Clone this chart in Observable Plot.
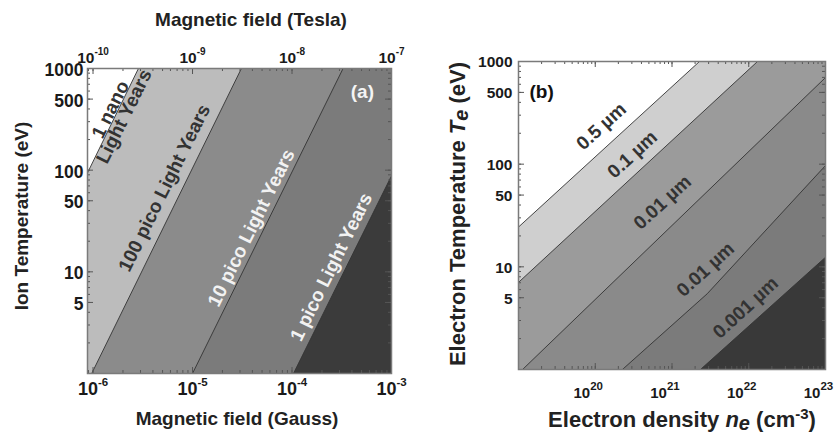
<!DOCTYPE html>
<html><head><meta charset="utf-8">
<script src="https://cdn.jsdelivr.net/npm/d3@7"></script>
<script src="https://cdn.jsdelivr.net/npm/@observablehq/plot@0.6"></script>
<style>
html,body{margin:0;padding:0;background:#fff;}
#wrap{position:relative;width:835px;height:433px;overflow:hidden;}
#wrap svg{position:absolute;top:0;}
</style></head><body><div id="wrap"></div>
<script>
// ---------- Panel (a): ion gyroradius ----------
const aXDomain = [8.8e-7, 1e-3];          // magnetic field (Gauss)
const aYDomain = [1, 1000];               // ion temperature (eV)
const aGaussTicks = [1e-6, 1e-5, 1e-4, 1e-3];
const aGaussTickLabels = ["10^-6", "10^-5", "10^-4", "10^-3"];
const aTeslaTickLabels = ["10^-10", "10^-9", "10^-8", "10^-7"];
const aTempTicks = [5, 10, 50, 100, 500, 1000];
// contour lines as [B (G), T (eV)] where they cross the frame
const aContour1 = [[8.8e-7, 94], [2.86e-6, 1000]];
const aContour2 = [[9.7e-7, 1], [3.1e-5, 1000]];
const aContour3 = [[1.0e-5, 1], [3.26e-4, 1000]];
const aContour4 = [[1.035e-4, 1], [1e-3, 88]];
const aBandGreys = ["#ffffff", "#bcbcbc", "#8b8b8b", "#7b7b7b", "#3b3b3b"];
const aLabels = ["1 nano\nLight Years", "100 pico Light Years", "10 pico Light Years", "1 pico Light Years"];
const aLabelB = [1.8e-6, 5.36e-6, 4.0e-5, 2.55e-4];
const aLabelT = [360, 66, 26.7, 11];
const aLabelColors = ["#333333", "#333333", "#f2f2f2", "#f2f2f2"];

// ---------- Panel (b) ----------
const bXDomain = [1e19, 1e23];            // electron density (cm^-3)
const bYDomain = [1, 1000];               // electron temperature (eV)
const bDensityTicks = [1e20, 1e21, 1e22, 1e23];
const bDensityTickLabels = ["10^20", "10^21", "10^22", "10^23"];
const bTempTicks = [5, 10, 50, 100, 500, 1000];
const bContour1 = [[1e19, 24.4], [2.28e21, 1000]];
const bContour2 = [[1e19, 7.05], [1.3e22, 1000]];
const bContour3 = [[1.13e19, 1], [1e23, 698]];
const bContour4 = [[2.26e20, 1], [2.88e21, 5.47], [1e23, 97]];
const bContour5 = [[2.35e21, 1], [1e23, 12.4]];
const bBandGreys = ["#ffffff", "#cfcfcf", "#9b9b9b", "#8a8a8a", "#7b7b7b", "#393939"];
const bLabels = ["0.5 µm", "0.1 µm", "0.01 µm", "0.01 µm", "0.001 µm"];
const bLabelN = [1.2e20, 3.05e20, 7.5e20, 2.73e21, 9.1e21];
const bLabelT = [233, 124, 42.4, 9.4, 4.0];

// ---------- helpers ----------
function bandPolygon(pts, xd, yd) {
  const poly = pts.slice();
  const s = pts[0], e = pts[pts.length - 1];
  if (e[1] >= yd[1]) poly.push([xd[1], yd[1]]);
  poly.push([xd[1], yd[0]]);
  if (s[0] <= xd[0]) poly.push([xd[0], yd[0]]);
  return poly;
}
function logMinor(lo, hi) {
  const out = [];
  for (let e = Math.floor(Math.log10(lo)) - 1; e <= Math.ceil(Math.log10(hi)); e++)
    for (let m = 1; m < 10; m++) {
      const v = m * Math.pow(10, e);
      if (v >= lo * 1.0001 && v <= hi * 0.9999) out.push(v);
    }
  return out;
}
function tickRules(xd, yd, iw, ih, xMajor, yMajor) {
  const xm = logMinor(xd[0], xd[1]), ym = logMinor(yd[0], yd[1]);
  const st = {stroke: "#555", strokeWidth: 1};
  return [
    Plot.ruleX(xm, {x: d => d, insetTop: ih - 3, ...st}),
    Plot.ruleX(xm, {x: d => d, insetBottom: ih - 3, ...st}),
    Plot.ruleY(ym, {y: d => d, insetRight: iw - 3, ...st}),
    Plot.ruleY(ym, {y: d => d, insetLeft: iw - 3, ...st}),
    Plot.ruleX(xMajor, {x: d => d, insetTop: ih - 6, ...st}),
    Plot.ruleX(xMajor, {x: d => d, insetBottom: ih - 6, ...st}),
    Plot.ruleY(yMajor, {y: d => d, insetRight: iw - 6, ...st}),
    Plot.ruleY(yMajor, {y: d => d, insetLeft: iw - 6, ...st})
  ];
}
// turn "10^k" tick texts into 10 + raised exponent, with explicit sizes
function superscripts(svg, cls, baseSize, supSize, supDy) {
  d3.select(svg).selectAll("g." + cls + " text").each(function () {
    const m = /^10\^(.+)$/.exec(this.textContent);
    if (!m) return;
    const sel = d3.select(this);
    sel.text(null).attr("font-size", baseSize).style("font-size", baseSize + "px");
    sel.append("tspan").attr("font-size", baseSize).style("font-size", baseSize + "px").text("10");
    sel.append("tspan").attr("dy", supDy).attr("font-size", supSize).style("font-size", supSize + "px").text(m[1]);
  });
}
const wrap = document.getElementById("wrap");
const fontFamily = "'Liberation Sans', Arial, sans-serif";

// ---------- Panel (a) ----------
{
  const W = 415, H = 433, mL = 87, mR = 24, mT = 68, mB = 60;
  const iw = W - mL - mR, ih = H - mT - mB;
  const lines = [aContour1, aContour2, aContour3, aContour4];
  const labelData = aLabels.map((t, i) => ({t, x: aLabelB[i], y: aLabelT[i], c: aLabelColors[i]}));
  const svg = Plot.plot({
    width: W, height: H, marginLeft: mL, marginRight: mR, marginTop: mT, marginBottom: mB,
    x: {type: "log", domain: aXDomain, axis: null},
    y: {type: "log", domain: aYDomain, axis: null},
    style: {fontFamily, fontWeight: "bold", fontSize: "17px", color: "#1a1a1a", background: "none"},
    marks: [
      Plot.frame({fill: aBandGreys[0], stroke: null}),
      ...lines.map((l, i) => Plot.line(bandPolygon(l, aXDomain, aYDomain),
        {x: d => d[0], y: d => d[1], fill: aBandGreys[i + 1], stroke: "none", clip: true})),
      ...lines.map(l => Plot.line(l, {x: d => d[0], y: d => d[1], stroke: "#333", strokeWidth: 0.9, clip: true})),
      ...tickRules(aXDomain, aYDomain, iw, ih, aGaussTicks, aTempTicks),
      Plot.frame({stroke: "#7a7a7a", strokeWidth: 1.5}),
      Plot.text(labelData, {x: "x", y: "y", text: "t", fill: "c", rotate: -63.7, fontSize: 19, lineHeight: 0.8}),
      Plot.text(["(a)"], {x: 5.1e-4, y: 594, text: d => d, fill: "#f4f4f4", fontSize: 19}),
      Plot.text(aGaussTicks, {x: d => d, frameAnchor: "bottom", lineAnchor: "top", dy: 9,
        text: (d, i) => aGaussTickLabels[i], fontSize: 18, className: "xb"}),
      Plot.text(aGaussTicks, {x: d => d, frameAnchor: "top", lineAnchor: "bottom", dy: -6,
        text: (d, i) => aTeslaTickLabels[i], fontSize: 15.5, className: "xt"}),
      Plot.text(aTempTicks, {y: d => d, frameAnchor: "left", textAnchor: "end", dx: -4, dy: 2,
        text: d => String(d), fontSize: 17.5})
    ]
  });
  svg.style.left = "0px";
  superscripts(svg, "xb", 18, 11.5, "-9");
  superscripts(svg, "xt", 15.5, 10, "-8");
  const s = d3.select(svg);
  s.append("text").attr("x", 251).attr("y", 26).attr("text-anchor", "middle")
    .attr("font-size", 19).attr("fill", "#222").text("Magnetic field (Tesla)");
  s.append("text").attr("x", 237).attr("y", 425).attr("text-anchor", "middle")
    .attr("font-size", 19).attr("fill", "#222").text("Magnetic field (Gauss)");
  s.append("text").attr("transform", "translate(28,216) rotate(-90)").attr("text-anchor", "middle")
    .attr("font-size", 19).attr("fill", "#222").text("Ion Temperature (eV)");
  wrap.appendChild(svg);
}

// ---------- Panel (b) ----------
{
  const W = 420, H = 433, mL = 103, mR = 10, mT = 61, mB = 64;
  const iw = W - mL - mR, ih = H - mT - mB;
  const lines = [bContour1, bContour2, bContour3, bContour4, bContour5];
  const labelData = bLabels.map((t, i) => ({t, x: bLabelN[i], y: bLabelT[i]}));
  const svg = Plot.plot({
    width: W, height: H, marginLeft: mL, marginRight: mR, marginTop: mT, marginBottom: mB,
    x: {type: "log", domain: bXDomain, axis: null},
    y: {type: "log", domain: bYDomain, axis: null},
    style: {fontFamily, fontWeight: "bold", fontSize: "15.5px", color: "#1a1a1a", background: "none"},
    marks: [
      Plot.frame({fill: bBandGreys[0], stroke: null}),
      ...lines.map((l, i) => Plot.line(bandPolygon(l, bXDomain, bYDomain),
        {x: d => d[0], y: d => d[1], fill: bBandGreys[i + 1], stroke: "none", clip: true})),
      ...lines.map(l => Plot.line(l, {x: d => d[0], y: d => d[1], stroke: "#333", strokeWidth: 0.9, clip: true})),
      ...tickRules(bXDomain, bYDomain, iw, ih, bDensityTicks, bTempTicks),
      Plot.frame({stroke: "#7a7a7a", strokeWidth: 1.5}),
      Plot.text(labelData, {x: "x", y: "y", text: "t", fill: "#333", rotate: -42.5, fontSize: 19}),
      Plot.text(["(b)"], {x: 2.0e19, y: 510, text: d => d, fill: "#111", fontSize: 19}),
      Plot.text(bDensityTicks, {x: d => d, frameAnchor: "bottom", lineAnchor: "top", dy: 18, dx: -7,
        text: (d, i) => bDensityTickLabels[i], fontSize: 15, className: "xb"}),
      Plot.text(bTempTicks, {y: d => d, frameAnchor: "left", textAnchor: "end", dx: -6, dy: 1,
        text: d => String(d), fontSize: 15.5})
    ]
  });
  svg.style.left = "415px";
  superscripts(svg, "xb", 15, 11.5, "-8");
  const s = d3.select(svg);
  const xt = s.append("text").attr("x", 267).attr("y", 427).attr("text-anchor", "middle")
    .attr("font-size", 22).attr("fill", "#222");
  xt.append("tspan").text("Electron density ");
  xt.append("tspan").attr("font-style", "italic").text("n");
  xt.append("tspan").attr("font-style", "italic").attr("dy", 3).attr("font-size", 20).text("e");
  xt.append("tspan").attr("dy", -3).text(" (cm");
  xt.append("tspan").attr("dy", -8).attr("font-size", 15).text("-3");
  xt.append("tspan").attr("dy", 8).text(")");
  const yt = s.append("text").attr("transform", "translate(50,214) rotate(-90)").attr("text-anchor", "middle")
    .attr("font-size", 22).attr("fill", "#222");
  yt.append("tspan").text("Electron Temperature ");
  yt.append("tspan").attr("font-style", "italic").text("T");
  yt.append("tspan").attr("font-style", "italic").attr("dy", 3).attr("font-size", 20).text("e");
  yt.append("tspan").attr("dy", -3).text(" (eV)");
  wrap.appendChild(svg);
}
</script></body></html>
